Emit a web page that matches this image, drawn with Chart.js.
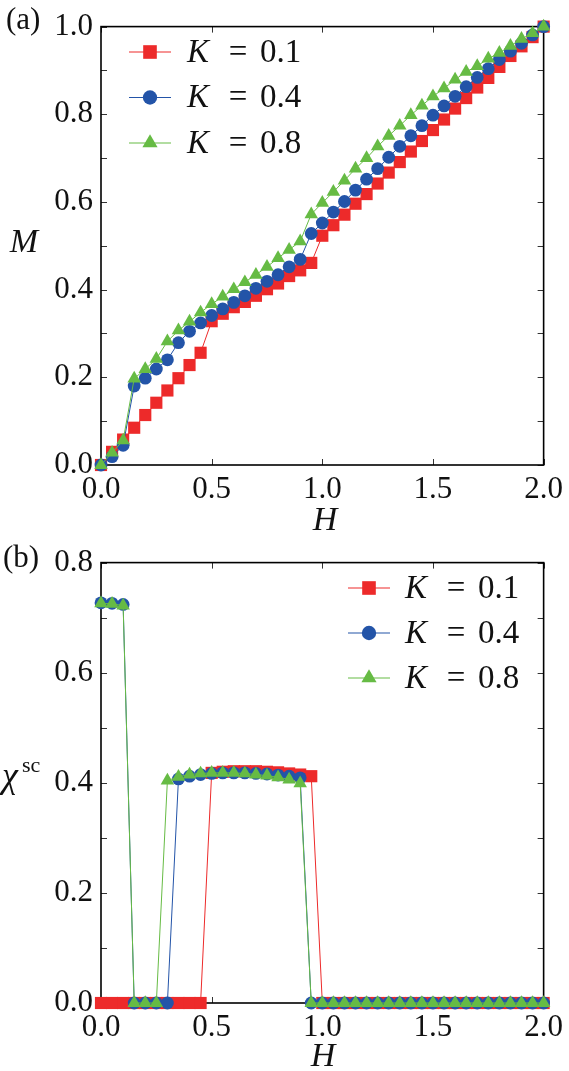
<!DOCTYPE html>
<html>
<head>
<meta charset="utf-8">
<script src="https://cdn.jsdelivr.net/npm/chart.js@4.4.1/dist/chart.umd.min.js"></script>
</head>
<body style="margin:0;background:#fff">
<canvas id="warm" width="4" height="4" style="position:absolute;left:0;top:0;opacity:0"></canvas>
<div style="width:569px;height:536px"><canvas id="c1" width="569" height="536" style="display:block"></canvas></div>
<div style="width:569px;height:535px"><canvas id="c2" width="569" height="535" style="display:block"></canvas></div>
<script>
// ---------------- data ----------------
const H = [0.00,0.05,0.10,0.15,0.20,0.25,0.30,0.35,0.40,0.45,
           0.50,0.55,0.60,0.65,0.70,0.75,0.80,0.85,0.90,0.95,
           1.00,1.05,1.10,1.15,1.20,1.25,1.30,1.35,1.40,1.45,
           1.50,1.55,1.60,1.65,1.70,1.75,1.80,1.85,1.90,1.95,2.00];

const seriesLabels = ['K = 0.1', 'K = 0.4', 'K = 0.8'];
const kValues = ['0.1', '0.4', '0.8'];

// panel (a): magnetization M
const M_K01 = [0.000,0.030,0.058,0.085,0.114,0.142,0.170,0.198,0.228,0.256,
               0.328,0.345,0.360,0.372,0.386,0.401,0.414,0.431,0.444,0.461,
               0.523,0.547,0.571,0.596,0.618,0.642,0.667,0.691,0.715,0.739,
               0.764,0.788,0.813,0.837,0.861,0.883,0.908,0.933,0.955,0.976,1.000];
const M_K04 = [0.000,0.019,0.045,0.180,0.198,0.219,0.240,0.279,0.305,0.324,
               0.341,0.356,0.371,0.386,0.403,0.419,0.434,0.452,0.469,0.528,
               0.552,0.577,0.601,0.627,0.652,0.676,0.702,0.727,0.751,0.774,
               0.798,0.819,0.841,0.863,0.884,0.904,0.925,0.944,0.962,0.981,1.000];
const M_K08 = [0.000,0.028,0.056,0.197,0.219,0.242,0.282,0.307,0.327,0.348,
               0.367,0.384,0.401,0.417,0.434,0.452,0.472,0.491,0.510,0.572,
               0.598,0.623,0.649,0.676,0.700,0.727,0.751,0.774,0.798,0.820,
               0.841,0.859,0.879,0.897,0.910,0.927,0.940,0.956,0.972,0.985,1.000];

// panel (b): chi^sc
const CHI_K01 = [0,0,0,0,0,0,0,0,0,0,
                 0.418,0.420,0.421,0.421,0.421,0.420,0.419,0.417,0.415,0.412,
                 0,0,0,0,0,0,0,0,0,0,
                 0,0,0,0,0,0,0,0,0,0,0];
const CHI_K04 = [0.727,0.726,0.724,0,0,0,0,0.407,0.412,0.415,
                 0.417,0.418,0.418,0.418,0.417,0.416,0.414,0.412,0.409,0,
                 0,0,0,0,0,0,0,0,0,0,
                 0,0,0,0,0,0,0,0,0,0,0];
const CHI_K08 = [0.726,0.725,0.722,0,0,0,0.404,0.411,0.415,0.417,
                 0.418,0.418,0.418,0.417,0.415,0.413,0.410,0.406,0.399,0,
                 0,0,0,0,0,0,0,0,0,0,
                 0,0,0,0,0,0,0,0,0,0,0];

const xTicksStep = 0.5;
const yTicksStep = 0.1;

// ---------------- styles ----------------
const COLORS = ['#ED2A2A', '#2354A8', '#66BB44'];
const STYLES = ['rect', 'circle', 'triangle'];
const RADII  = [8.6, 6.4, 7.8];
const FAM = '"Liberation Serif"';

// font warm-up on a plain canvas
(function () {
  const w = document.getElementById('warm').getContext('2d');
  ['31px ', 'italic 31px '].forEach(s => { w.font = s + FAM; w.fillText('0.8 (a) K H M \u03C7 sc', 0, 3); });
})();

function pts(ys) { return H.map((h, i) => ({x: h, y: ys[i]})); }

function makeDatasets(arrs) {
  return arrs.map((a, i) => ({
    label: seriesLabels[i],
    data: pts(a),
    borderColor: COLORS[i],
    backgroundColor: COLORS[i],
    pointBackgroundColor: COLORS[i],
    pointBorderColor: COLORS[i],
    pointBorderWidth: 0,
    pointStyle: STYLES[i],
    pointRadius: RADII[i],
    borderWidth: 1,
    tension: 0,
    clip: false,
    order: 2 - i
  }));
}

const frameTicks = {
  id: 'frameTicks',
  beforeDatasetsDraw(chart) {
    const {ctx, chartArea: a, scales: {x, y}} = chart;
    ctx.save();
    ctx.strokeStyle = '#333';
    ctx.lineWidth = 1;
    const L = 6;
    ctx.beginPath();
    x.ticks.forEach(t => {
      const px = Math.round(x.getPixelForValue(t.value)) + 0.5;
      ctx.moveTo(px, a.bottom); ctx.lineTo(px, a.bottom - L);
      ctx.moveTo(px, a.top); ctx.lineTo(px, a.top + L);
    });
    y.ticks.forEach(t => {
      const py = Math.round(y.getPixelForValue(t.value)) + 0.5;
      ctx.moveTo(a.left, py); ctx.lineTo(a.left + L, py);
      ctx.moveTo(a.right, py); ctx.lineTo(a.right - L, py);
    });
    ctx.stroke();
    ctx.strokeStyle = '#000';
    ctx.lineWidth = 1.6;
    ctx.strokeRect(a.left, a.top, a.right - a.left, a.bottom - a.top);
    ctx.restore();
  },
  afterDraw(chart, args, opts) {
    const ctx = chart.ctx;
    ctx.save();
    ctx.fillStyle = '#111';
    ctx.font = '31px ' + FAM;
    ctx.textAlign = 'left';
    ctx.textBaseline = 'middle';
    ctx.fillText(opts.tag, opts.tagX, opts.tagY);
    ctx.font = 'italic 34px ' + FAM;
    ctx.textAlign = 'center';
    ctx.fillText('H', opts.xTitleX, opts.xTitleY);
    if (opts.yTitle === 'M') {
      ctx.fillText('M', opts.yTitleX, opts.yTitleY);
    } else {
      ctx.textAlign = 'left';
      ctx.textBaseline = 'alphabetic';
      ctx.font = 'italic 36px ' + FAM;
      ctx.fillText('\u03C7', opts.yTitleX, opts.yTitleY);
      ctx.font = '22px ' + FAM;
      ctx.fillText('sc', opts.yTitleX + 20, opts.yTitleY - 15);
    }
    const lg = opts.legend;
    chart.data.datasets.forEach((ds, i) => {
      const yy = lg.y0 + i * lg.dy;
      ctx.strokeStyle = ds.borderColor;
      ctx.lineWidth = 1.2;
      ctx.beginPath();
      ctx.moveTo(lg.x, yy); ctx.lineTo(lg.x + lg.len, yy);
      ctx.stroke();
      ctx.fillStyle = ds.pointBackgroundColor;
      Chart.helpers.drawPoint(ctx, {pointStyle: ds.pointStyle, rotation: 0, radius: ds.pointRadius * 1.12, borderWidth: 0}, lg.x + lg.len / 2, yy);
      ctx.fillStyle = '#111';
      ctx.textBaseline = 'middle';
      ctx.textAlign = 'left';
      ctx.font = 'italic 33px ' + FAM;
      ctx.fillText('K', lg.tx, yy + 1);
      ctx.font = '33px ' + FAM;
      ctx.textAlign = 'center';
      ctx.fillText('=', lg.tx + 51, yy + 1);
      ctx.textAlign = 'left';
      ctx.fillText(kValues[i], lg.tx + 73, yy + 1);
    });
    ctx.restore();
  }
};

function makeOptions(yMax, xAxisH, topPad, plugOpts) {
  return {
    responsive: false,
    animation: false,
    layout: {padding: {top: topPad, right: 22, left: 0, bottom: 0}},
    plugins: {legend: {display: false}, tooltip: {enabled: false}, frameTicks: plugOpts},
    scales: {
      x: {
        type: 'linear', min: 0, max: 2,
        grid: {display: false, drawTicks: false},
        border: {display: false},
        ticks: {
          stepSize: xTicksStep, autoSkip: false, maxRotation: 0, padding: 6,
          color: '#111', font: {family: FAM, size: 31},
          callback: v => Number(v).toFixed(1)
        },
        afterFit: s => { s.height = xAxisH; }
      },
      y: {
        type: 'linear', min: 0, max: yMax,
        grid: {display: false, drawTicks: false},
        border: {display: false},
        ticks: {
          stepSize: yTicksStep, autoSkip: false, padding: 8,
          color: '#111', font: {family: FAM, size: 31},
          callback: v => (Math.round(v * 10) % 2 === 0 ? Number(v).toFixed(1) : '')
        },
        afterFit: s => { s.width = 101; }
      }
    }
  };
}

new Chart(document.getElementById('c1'), {
  type: 'line',
  data: {datasets: makeDatasets([M_K01, M_K04, M_K08])},
  options: makeOptions(1.0, 71, 20, {
    tag: '(a)', tagX: 6, tagY: 21,
    xTitleX: 325, xTitleY: 521,
    yTitle: 'M', yTitleX: 24, yTitleY: 243,
    legend: {x: 129, y0: 52, dy: 45.5, len: 42, tx: 187}
  }),
  plugins: [frameTicks]
});
new Chart(document.getElementById('c2'), {
  type: 'line',
  data: {datasets: makeDatasets([CHI_K01, CHI_K04, CHI_K08])},
  options: makeOptions(0.8, 68, 21, {
    tag: '(b)', tagX: 3, tagY: 23,
    xTitleX: 323, xTitleY: 521,
    yTitle: 'chi', yTitleX: 2, yTitleY: 251,
    legend: {x: 348, y0: 52, dy: 45, len: 42, tx: 405}
  }),
  plugins: [frameTicks]
});
</script>
</body>
</html>
